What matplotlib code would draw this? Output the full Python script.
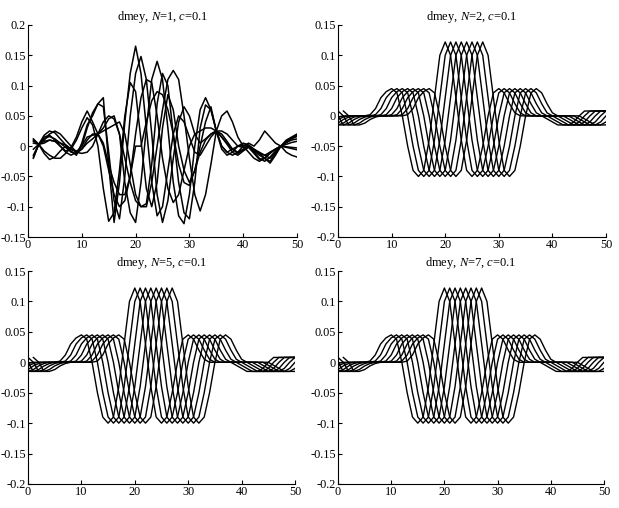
import numpy as np
import matplotlib
matplotlib.use("Agg")
import matplotlib.pyplot as plt
from matplotlib.ticker import FuncFormatter

plt.rcParams["font.family"] = ["Liberation Serif", "DejaVu Serif"]
plt.rcParams["mathtext.fontset"] = "custom"
plt.rcParams["mathtext.rm"] = "Liberation Serif"
plt.rcParams["mathtext.it"] = "Liberation Serif:italic"
plt.rcParams["axes.unicode_minus"] = False

# sample positions
x = np.arange(1, 51)

# N=1 panel: eight curves (x = 1..50)
n1_a = [.012, .003, -.012, -.022, -.018, -.008, 0, -.008, -.015, .005,
        .035, .05, .07, .08, -.03, -.126, -.06, .04, .12, .165,
        .12, .03, -.06, -.115, -.1, -.04, .02, .05, .04, .015,
        -.01, -.015, 0, .015, .025, .02, .008, -.005, -.012, -.006,
        0, -.01, -.02, -.025, -.018, -.008, 0, .008, .014, .018]
n1_b = [.008, .003, .01, .02, .025, .02, .01, 0, -.01, 0,
        .03, .055, .07, .065, -.01, -.09, -.12, -.05, .05, .12,
        .148, .11, .02, -.08, -.126, -.09, -.02, .04, .065, .05,
        .02, .005, .012, .02, .025, .015, .003, -.01, -.015, -.008,
        -.002, -.012, -.022, -.02, -.012, -.005, 0, .006, .012, .016]
n1_c = [-.015, .003, .015, .018, .01, 0, -.01, -.015, -.01, 0,
        .015, .018, .02, .03, .045, .05, .02, -.06, -.11, -.126,
        -.06, .03, .11, .14, .11, .03, -.06, -.115, -.128, -.08,
        0, .06, .08, .06, .025, 0, -.01, -.005, 0, .002,
        0, -.008, -.015, -.02, -.025, -.012, 0, .01, .015, .02]
n1_d = [-.02, .003, .012, .016, .012, .005, -.002, -.01, -.012, -.005,
        .005, .012, .02, .025, .03, .035, .04, .02, -.03, -.08,
        -.1, -.095, -.03, .07, .12, .1, .02, -.06, -.11, -.12,
        -.06, .03, .068, .06, .025, -.005, -.015, -.01, 0, .005,
        .002, -.005, -.012, -.02, -.028, -.015, 0, .006, .01, .012]
n1_e = [.01, .003, -.008, -.015, -.02, -.02, -.012, -.002, .015, .04,
        .058, .04, .02, 0, -.04, -.08, -.1, -.09, -.05, .02,
        .08, .11, .105, .05, -.02, -.07, -.093, -.08, -.04, 0,
        .02, .025, .03, .03, .025, .015, .005, -.005, -.01, -.005,
        0, -.005, -.01, -.015, -.02, -.01, 0, .003, .006, .008]
n1_f = [-.005, .003, .008, .01, .008, .005, .002, -.005, -.01, -.012,
        -.01, 0, .02, .04, .05, .045, .02, -.02, -.06, -.09,
        -.1, -.1, -.06, 0, .06, .11, .125, .11, .05, -.02,
        -.08, -.107, -.08, -.03, .025, .05, .058, .04, .015, 0,
        -.01, -.02, -.025, -.02, -.01, -.005, 0, -.001, -.002, -.003]
n1_g = [.005, .003, .005, .01, .008, 0, -.008, -.005, .01, .03,
        .047, .035, 0, -.07, -.124, -.11, -.04, .05, .105, .09,
        .01, -.07, -.1, -.06, .03, .085, .06, 0, -.04, -.06,
        -.04, -.01, .01, .02, .025, .025, .02, .01, 0, -.002,
        0, -.006, -.012, -.015, -.01, -.005, 0, -.002, -.004, -.006]
n1_h = [-.018, .003, .018, .025, .022, .012, .002, -.005, -.008, -.005,
        .01, .02, .02, .005, -.03, -.06, -.08, -.08, -.05, 0,
        0, .04, .075, .09, .085, .06, .02, -.03, -.06, -.065,
        -.04, 0, .04, .065, .025, 0, -.01, -.015, -.01, 0,
        .005, 0, .01, .025, .015, .005, 0, -.01, -.015, -.018]
n1_curves = [n1_a, n1_b, n1_c, n1_d, n1_e, n1_f, n1_g, n1_h]

# N=2,5,7 panels: one waveform at t = -6..50, drawn at eight shifts
base_t = np.arange(-6, 51)
base_y = [.008, 0, -.015, -.015, -.012, -.006, -.002,           # t=-6..0
          0, 0, 0, 0, 0, .002, .012, .03, .04, .045,           # 1..10
          .038, 0, -.05, -.09, -.1, -.09, -.04, .03, .1, .122,  # 11..20
          .1, .03, -.04, -.09, -.1, -.09, -.05, 0, .038, .045,  # 21..30
          .038, .02, .005, 0, 0, 0, 0, 0, -.005, -.01,          # 31..40
          -.015, -.015, -.015, -.01, 0, .008, .008, .008, .008, .008]  # 41..50
shifts = [0, 1, 2, 3, 4, 5, 6, 7]

titles = ["dmey, $N$=1, $c$=0.1", "dmey, $N$=2, $c$=0.1",
          "dmey, $N$=5, $c$=0.1", "dmey, $N$=7, $c$=0.1"]
ylims = [(-0.15, 0.2), (-0.2, 0.15), (-0.2, 0.15), (-0.2, 0.15)]
yticks = [[-0.15, -0.1, -0.05, 0, 0.05, 0.1, 0.15, 0.2],
          [-0.2, -0.15, -0.1, -0.05, 0, 0.05, 0.1, 0.15],
          [-0.2, -0.15, -0.1, -0.05, 0, 0.05, 0.1, 0.15],
          [-0.2, -0.15, -0.1, -0.05, 0, 0.05, 0.1, 0.15]]
xticks = [0, 10, 20, 30, 40, 50]

fig = plt.figure(figsize=(6.19, 5.08), dpi=100)
rects = [[28/619, 271/508, 269/619, 212/508],
         [338/619, 271/508, 268/619, 212/508],
         [28/619, 24/508, 267/619, 213/508],
         [338/619, 24/508, 266/619, 213/508]]

for i, r in enumerate(rects):
    ax = fig.add_axes(r)
    if i == 0:
        for c in n1_curves:
            ax.plot(x, c, color="black", lw=1.1)
    else:
        for k in shifts:
            ax.plot(base_t + k, base_y, color="black", lw=1.0)
    ax.set_xlim(0, 50)
    ax.set_ylim(*ylims[i])
    ax.set_xticks(xticks)
    ax.set_yticks(yticks[i])
    ax.yaxis.set_major_formatter(FuncFormatter(lambda v, p: "%g" % round(v, 3)))
    ax.spines["top"].set_visible(False)
    ax.spines["right"].set_visible(False)
    ax.tick_params(direction="in", length=3, labelsize=8.8, pad=1.5)
    ax.set_title(titles[i], fontsize=9, pad=3)

fig.savefig("out.png", dpi=100)
